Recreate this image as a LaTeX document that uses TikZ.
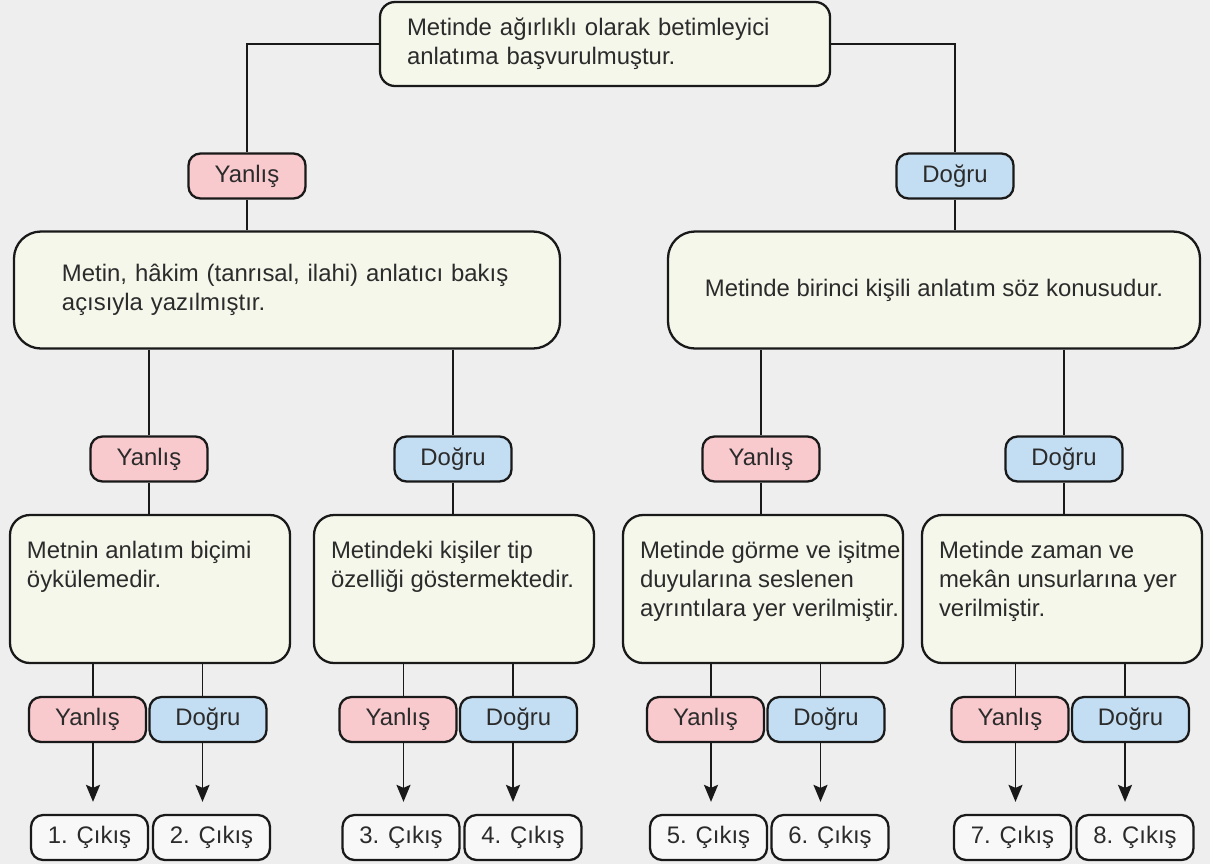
\documentclass[tikz,border=0pt]{standalone}
\usepackage{fontspec}
\setmainfont{Liberation Sans}
\usetikzlibrary{arrows.meta}

\definecolor{bgGray}{HTML}{EEEEEE}
\definecolor{cardFill}{HTML}{F4F7EA}
\definecolor{noFill}{HTML}{F8C9CD}
\definecolor{yesFill}{HTML}{C3DDF2}
\definecolor{exitFill}{HTML}{F8F8F8}
\definecolor{inkGray}{HTML}{2B2B2B}

% text of the lower cards, set from the top edge
\newcommand{\cardtext}[1]{\parbox[c][29.6mm][t]{56mm}{\raggedright\leftskip=3.4mm\vspace*{5.2mm}#1}}

\begin{document}
\begin{tikzpicture}[
    x=0.2mm, y=-0.2mm,
    font=\fontsize{13.6}{16.5}\selectfont,
    text=inkGray,
    box/.style={rectangle, draw=black!90, line width=1.3pt, fill=cardFill},
    question/.style={box, rounded corners=3mm, align=left, inner ysep=0pt, minimum height=16.8mm},
    bigbox/.style={box, rounded corners=5.4mm, minimum height=23.4mm, inner ysep=0pt},
    card/.style={box, rounded corners=4mm, inner sep=0pt},
    answer/.style={rectangle, draw=black!90, line width=1.3pt, rounded corners=2.4mm, minimum width=23.4mm, minimum height=9mm, inner sep=0pt},
    yanlis/.style={answer, fill=noFill},
    dogru/.style={answer, fill=yesFill},
    cikis/.style={answer, fill=exitFill},
    link/.style={draw=black!90, line width=1.1pt},
    arrow/.style={link, -{Stealth[length=3.4mm, width=2.8mm, inset=0.6mm]}, shorten >=2.4mm}
]

% background
\fill[bgGray] (0,0) rectangle (1210,864);

% Question at the top
\node[question, text width=79.2mm, inner xsep=5.4mm] (soru) at (605,44) {Metinde ağırlıklı olarak betimleyici\\anlatıma başvurulmuştur.};

\node[yanlis] (y1) at (247,176) {Yanlış};
\node[dogru] (d1) at (955,176) {Doğru};

% Second questions
\node[bigbox, align=left, text width=90mm, inner xsep=9.6mm] (hakim) at (287,290) {Metin, hâkim (tanrısal, ilahi) anlatıcı bakış\\açısıyla yazılmıştır.};
\node[bigbox, minimum width=106.4mm] (birinci) at (934,290) {Metinde birinci kişili anlatım söz konusudur.};

\node[yanlis] (y2) at (149,459) {Yanlış};
\node[dogru] (d2) at (453,459) {Doğru};
\node[yanlis] (y3) at (761,459) {Yanlış};
\node[dogru] (d3) at (1064,459) {Doğru};

% Third questions
\node[card] (oyku) at (150,589) {\cardtext{Metnin anlatım biçimi\\öykülemedir.}};
\node[card] (tip) at (454,589) {\cardtext{Metindeki kişiler tip\\özelliği göstermektedir.}};
\node[card] (duyu) at (763,589) {\cardtext{Metinde görme ve işitme\\duyularına seslenen\\ayrıntılara yer verilmiştir.}};
\node[card] (zaman) at (1062,589) {\cardtext{Metinde zaman ve\\mekân unsurlarına yer\\verilmiştir.}};

\node[yanlis] (ya) at (87.5,719.5) {Yanlış};
\node[dogru] (da) at (208,719.5) {Doğru};
\node[yanlis] (yb) at (398,719.5) {Yanlış};
\node[dogru] (db) at (518.5,719.5) {Doğru};
\node[yanlis] (yc) at (705.5,719.5) {Yanlış};
\node[dogru] (dc) at (826,719.5) {Doğru};
\node[yanlis] (yd) at (1010,719.5) {Yanlış};
\node[dogru] (dd) at (1130.5,719.5) {Doğru};

% Exits
\node[cikis] (cikis1) at (89.5,837.5) {1. Çıkış};
\node[cikis] (cikis2) at (211.5,837.5) {2. Çıkış};
\node[cikis] (cikis3) at (401,837.5) {3. Çıkış};
\node[cikis] (cikis4) at (523,837.5) {4. Çıkış};
\node[cikis] (cikis5) at (708.5,837.5) {5. Çıkış};
\node[cikis] (cikis6) at (830,837.5) {6. Çıkış};
\node[cikis] (cikis7) at (1012.5,837.5) {7. Çıkış};
\node[cikis] (cikis8) at (1135,837.5) {8. Çıkış};

% Links
\draw[link] (soru.west) -| (y1.north);
\draw[link] (soru.east) -| (d1.north);
\draw[link] (y1.south) -- (y1.south |- hakim.north);
\draw[link] (d1.south) -- (d1.south |- birinci.north);

\draw[link] (y2.north |- hakim.south) -- (y2.north);
\draw[link] (d2.north |- hakim.south) -- (d2.north);
\draw[link] (y3.north |- birinci.south) -- (y3.north);
\draw[link] (d3.north |- birinci.south) -- (d3.north);

\draw[link] (y2.south) -- (y2.south |- oyku.north);
\draw[link] (d2.south) -- (d2.south |- tip.north);
\draw[link] (y3.south) -- (y3.south |- duyu.north);
\draw[link] (d3.south) -- (d3.south |- zaman.north);

\draw[link] ([xshift=1.1mm]ya.north |- oyku.south) -- ([xshift=1.1mm]ya.north);
\draw[link] ([xshift=-1.1mm]da.north |- oyku.south) -- ([xshift=-1.1mm]da.north);
\draw[link] ([xshift=1.1mm]yb.north |- tip.south) -- ([xshift=1.1mm]yb.north);
\draw[link] ([xshift=-1.1mm]db.north |- tip.south) -- ([xshift=-1.1mm]db.north);
\draw[link] ([xshift=1.1mm]yc.north |- duyu.south) -- ([xshift=1.1mm]yc.north);
\draw[link] ([xshift=-1.1mm]dc.north |- duyu.south) -- ([xshift=-1.1mm]dc.north);
\draw[link] ([xshift=1.1mm]yd.north |- zaman.south) -- ([xshift=1.1mm]yd.north);
\draw[link] ([xshift=-1.1mm]dd.north |- zaman.south) -- ([xshift=-1.1mm]dd.north);

% Arrows to the exits
\draw[arrow] ([xshift=1.1mm]ya.south) -- ([xshift=1.1mm]ya.south |- cikis1.north);
\draw[arrow] ([xshift=-1.1mm]da.south) -- ([xshift=-1.1mm]da.south |- cikis2.north);
\draw[arrow] ([xshift=1.1mm]yb.south) -- ([xshift=1.1mm]yb.south |- cikis3.north);
\draw[arrow] ([xshift=-1.1mm]db.south) -- ([xshift=-1.1mm]db.south |- cikis4.north);
\draw[arrow] ([xshift=1.1mm]yc.south) -- ([xshift=1.1mm]yc.south |- cikis5.north);
\draw[arrow] ([xshift=-1.1mm]dc.south) -- ([xshift=-1.1mm]dc.south |- cikis6.north);
\draw[arrow] ([xshift=1.1mm]yd.south) -- ([xshift=1.1mm]yd.south |- cikis7.north);
\draw[arrow] ([xshift=-1.1mm]dd.south) -- ([xshift=-1.1mm]dd.south |- cikis8.north);

\end{tikzpicture}
\end{document}
